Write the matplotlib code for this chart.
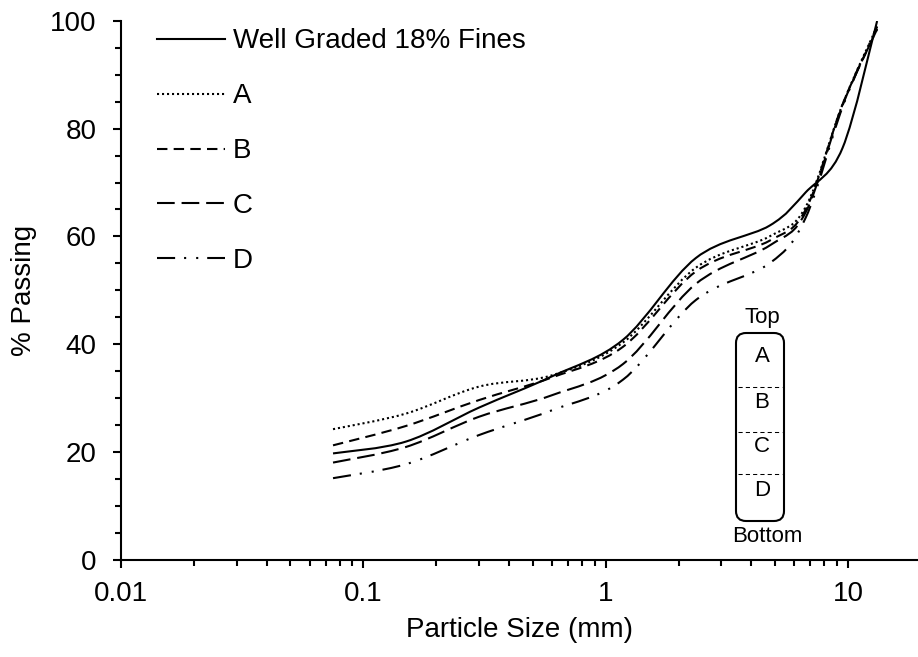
import numpy as np
import matplotlib
matplotlib.use("Agg")
import matplotlib.pyplot as plt
from matplotlib.path import Path
from matplotlib.patches import PathPatch, FancyBboxPatch
from matplotlib.lines import Line2D
from matplotlib.transforms import Affine2D
from matplotlib.ticker import LogLocator, NullFormatter, FuncFormatter, MultipleLocator

plt.rcParams["font.family"] = ["Liberation Sans", "DejaVu Sans"]

# sieve sizes (mm) and % passing
SIEVE_MM = [0.075, 0.15, 0.3, 0.6, 1.18, 2.36, 4.75, 6.7, 9.5, 13.2]
WELL_GRADED = [19.7, 21.9, 28.2, 34.0, 40.8, 56.0, 62.0, 68.2, 76.4, 100.0]
LAYER_A = [24.2, 27.1, 32.1, 34.2, 40.3, 54.2, 60.0, 65.5, 84.5, 99.0]
LAYER_B = [21.2, 24.8, 29.6, 33.8, 39.5, 53.5, 59.2, 65.0, 84.5, 98.5]
LAYER_C = [18.0, 20.9, 26.5, 30.5, 36.3, 51.2, 58.3, 64.5, 84.3, 98.5]
LAYER_D = [15.1, 17.7, 23.1, 27.7, 33.4, 48.2, 55.0, 63.5, 84.0, 99.0]
SERIES_NAMES = ["Well Graded 18% Fines", "A", "B", "C", "D"]
BOX_LABELS = ["A", "B", "C", "D"]

LW = 1.5
DASHES = [
    "-",
    (0, (1, 1.4)),
    (0, (5, 3)),
    (0, (8.5, 3.3)),
    (0, (8.7, 4.3, 1, 4.8, 1, 4.3)),
]


def smooth_path(x, y):
    """Excel-style smoothed line: cubic Bezier through each point,
    control points built in (log x, y) space."""
    pts = np.column_stack([np.log10(x), np.asarray(y, dtype=float)])
    n = len(pts)
    verts = [pts[0]]
    for i in range(n - 1):
        p0 = pts[max(i - 1, 0)]
        p1 = pts[i]
        p2 = pts[i + 1]
        p3 = pts[min(i + 2, n - 1)]
        verts += [p1 + (p2 - p0) / 6, p2 - (p3 - p1) / 6, p2]
    verts = np.array(verts)
    verts[:, 0] = 10 ** verts[:, 0]
    codes = [Path.MOVETO] + [Path.CURVE4] * (3 * (n - 1))
    return Path(verts, codes)


fig = plt.figure(figsize=(9.18, 6.57), dpi=100)
ax = fig.add_axes([121 / 918, 97.5 / 657, 797 / 918, 538.5 / 657])
pix = Affine2D().scale(1 / 918, -1 / 657).translate(0, 1) + fig.transFigure

handles = []
for ys, name, ls in zip([WELL_GRADED, LAYER_A, LAYER_B, LAYER_C, LAYER_D],
                        SERIES_NAMES, DASHES):
    patch = PathPatch(smooth_path(SIEVE_MM, ys), fill=False, edgecolor="black",
                      lw=LW, ls=ls, capstyle="butt", joinstyle="round")
    ax.add_patch(patch)
    handles.append(Line2D([], [], color="black", lw=LW, ls=ls,
                          dash_capstyle="butt", label=name))

ax.set_xscale("log")
ax.set_xlim(0.01, 10 ** (-2 + 797 / 242.3))
ax.set_ylim(0, 100)

ax.xaxis.set_major_locator(LogLocator(base=10, numticks=10))
ax.xaxis.set_minor_locator(LogLocator(base=10, subs=np.arange(2, 10), numticks=20))
ax.xaxis.set_minor_formatter(NullFormatter())
ax.xaxis.set_major_formatter(FuncFormatter(lambda v, p: f"{v:g}"))
ax.yaxis.set_major_locator(MultipleLocator(20))
ax.yaxis.set_minor_locator(MultipleLocator(5))

for s in ["top", "right"]:
    ax.spines[s].set_visible(False)
for s in ["left", "bottom"]:
    ax.spines[s].set_linewidth(LW)

ax.tick_params(which="major", length=5.8, width=LW, labelsize=20)
ax.tick_params(which="minor", length=4.3, width=LW)
ax.tick_params(axis="x", which="major", pad=10)
ax.tick_params(axis="y", which="major", pad=12)

ax.set_xlabel("Particle Size (mm)", fontsize=20)
ax.set_ylabel("% Passing", fontsize=20)
ax.xaxis.set_label_coords(0.5, -0.107)
ax.yaxis.set_label_coords(-0.105, 0.5)

ax.legend(handles=handles, loc="upper left", bbox_to_anchor=(157, 28.5),
          bbox_transform=pix, frameon=False, fontsize=20, handlelength=2.45,
          handletextpad=0.29, labelspacing=1.04, borderpad=0, borderaxespad=0)

# layer sketch: Top / A-D / Bottom
box = FancyBboxPatch((736, 333), 48, 188, boxstyle="round,pad=0,rounding_size=10",
                     transform=pix, fill=False, edgecolor="black", lw=LW)
fig.add_artist(box)
for yy in [386.7, 431.7, 473.7]:
    fig.add_artist(Line2D([738, 782], [yy, yy], transform=pix, color="black",
                          lw=0.75, ls=(0, (4, 3))))
for lab, yy in zip(BOX_LABELS, [357, 402, 447, 490]):
    fig.text(762, yy, lab, transform=pix, ha="center", va="center", fontsize=16)
fig.text(762, 317, "Top", transform=pix, ha="center", va="center", fontsize=16)
fig.text(767, 537, "Bottom", transform=pix, ha="center", va="center", fontsize=16)

fig.savefig("out.png", dpi=100)
